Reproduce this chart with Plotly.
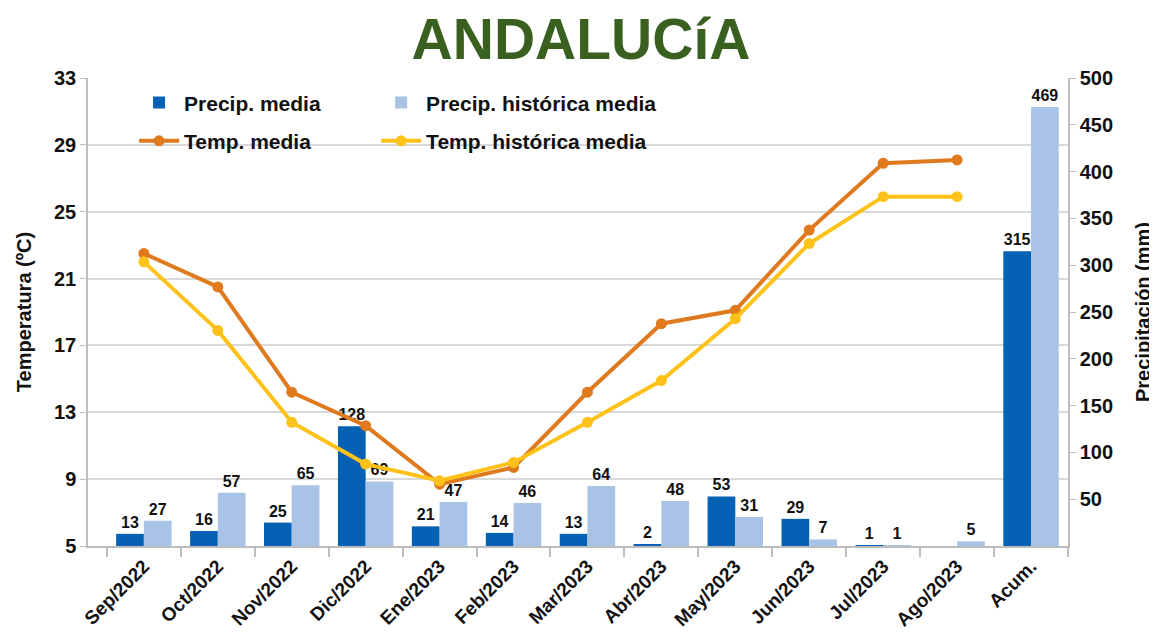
import plotly.graph_objects as go

categories = ["Sep/2022", "Oct/2022", "Nov/2022", "Dic/2022", "Ene/2023", "Feb/2023",
              "Mar/2023", "Abr/2023", "May/2023", "Jun/2023", "Jul/2023", "Ago/2023", "Acum."]
precip_media = [13, 16, 25, 128, 21, 14, 13, 2, 53, 29, 1, 0, 315]
precip_media_labels = ["13", "16", "25", "128", "21", "14", "13", "2", "53", "29", "1", "", "315"]
precip_hist = [27, 57, 65, 69, 47, 46, 64, 48, 31, 7, 1, 5, 469]
temp_months = categories[:12]
temp_media = [22.5, 20.5, 14.2, 12.2, 8.7, 9.7, 14.2, 18.3, 19.1, 23.9, 27.9, 28.1]
temp_hist = [22.0, 17.9, 12.4, 9.9, 8.9, 10.0, 12.4, 14.9, 18.6, 23.1, 25.9, 25.9]
temp_ticks = [5, 9, 13, 17, 21, 25, 29, 33]
precip_ticks = [50, 100, 150, 200, 250, 300, 350, 400, 450, 500]

FONT = "Liberation Sans, Arial, sans-serif"
DARK_BLUE = "#0561B3"
LIGHT_BLUE = "#A8C3E5"
ORANGE = "#E07A1E"
YELLOW = "#FFC21A"
AXIS_GRAY = "#BDBDBD"

fig = go.Figure()

fig.add_trace(go.Bar(
    x=categories, y=precip_media, name="Precip. media",
    marker=dict(color=DARK_BLUE, line=dict(width=0)),
    text=precip_media_labels, textposition="outside", cliponaxis=False,
    textfont=dict(family=FONT, size=16, color="#111111", weight="bold"),
    yaxis="y", legend="legend",
))
fig.add_trace(go.Bar(
    x=categories, y=precip_hist, name="Precip. histórica media",
    marker=dict(color=LIGHT_BLUE, line=dict(width=0)),
    text=[str(v) for v in precip_hist], textposition="outside", cliponaxis=False,
    textfont=dict(family=FONT, size=16, color="#111111", weight="bold"),
    yaxis="y", legend="legend2",
))
fig.add_trace(go.Scatter(
    x=temp_months, y=temp_media, name="Temp. media", mode="lines+markers",
    line=dict(color=ORANGE, width=4), marker=dict(color=ORANGE, size=11),
    yaxis="y2", legend="legend3", cliponaxis=False,
))
fig.add_trace(go.Scatter(
    x=temp_months, y=temp_hist, name="Temp. histórica media", mode="lines+markers",
    line=dict(color=YELLOW, width=4), marker=dict(color=YELLOW, size=11),
    yaxis="y2", legend="legend4", cliponaxis=False,
))

legend_common = dict(
    orientation="v", xanchor="left", yanchor="middle",
    font=dict(family=FONT, size=21, color="#111111", weight="bold"),
    bgcolor="rgba(0,0,0,0)", itemwidth=40,
)

COL1, COL2 = 0.047, 0.294
ROW1, ROW2 = 0.947, 0.865

fig.update_layout(
    width=1149, height=636,
    paper_bgcolor="white", plot_bgcolor="white",
    margin=dict(l=80, r=89, t=70, b=98),
    barmode="group", bargap=0.25, bargroupgap=0,
    showlegend=True,
    title=dict(
        text="<b>ANDALUCíA</b>", x=0.4987, xanchor="center",
        y=1, yref="container", yanchor="top", pad=dict(t=11, b=0),
        font=dict(family=FONT, size=57, color="#3A6020"),
    ),
    legend=dict(x=COL1, y=ROW1, **legend_common),
    legend2=dict(x=COL2, y=ROW1, **legend_common),
    legend3=dict(x=COL1, y=ROW2, **legend_common),
    legend4=dict(x=COL2, y=ROW2, **legend_common),
    xaxis=dict(
        type="category", categoryorder="array", categoryarray=categories,
        automargin=False,
        showline=True, linecolor=AXIS_GRAY, linewidth=1.5,
        ticks="outside", tickson="boundaries", ticklen=9, tickcolor=AXIS_GRAY, tickwidth=1.5,
        tickangle=-45,
        tickfont=dict(family=FONT, size=19, color="#111111", weight="bold"),
        showgrid=False,
    ),
    yaxis=dict(
        side="right", range=[0, 500], tickmode="array", tickvals=precip_ticks,
        automargin=False,
        showgrid=False, showline=True, linecolor=AXIS_GRAY, linewidth=1.5,
        ticks="outside", ticklen=6, tickcolor=AXIS_GRAY,
        tickfont=dict(family=FONT, size=20, color="#111111", weight="bold"),
        title=dict(text="Precipitación (mm)", standoff=24,
                   font=dict(family=FONT, size=20, color="#111111", weight="bold")),
        zeroline=False,
    ),
    yaxis2=dict(
        overlaying="y", side="left", range=[5, 33], tickmode="array", tickvals=temp_ticks,
        automargin=False,
        showgrid=True, gridcolor="#D9D9D9", gridwidth=1.5,
        showline=True, linecolor=AXIS_GRAY, linewidth=1.5,
        ticks="outside", ticklen=6, tickcolor=AXIS_GRAY,
        tickfont=dict(family=FONT, size=20, color="#111111", weight="bold"),
        title=dict(text="Temperatura (ºC)", standoff=17,
                   font=dict(family=FONT, size=20, color="#111111", weight="bold")),
        zeroline=False,
    ),
)

fig.write_html("out.html")
